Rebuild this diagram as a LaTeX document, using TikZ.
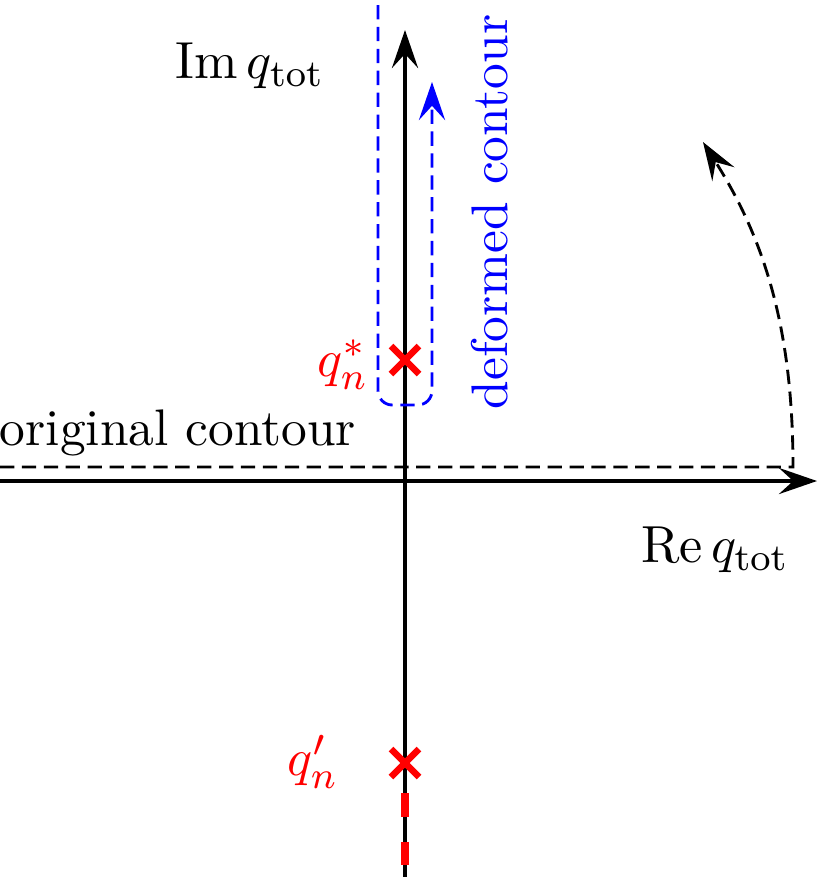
\documentclass[tikz,border=0pt]{standalone}
\usetikzlibrary{arrows.meta}
\begin{document}
\begin{tikzpicture}[x=0.21pt,y=-0.21pt,
  tip/.tip={Stealth[length=8pt,width=5.5pt,inset=3pt]},
  ax/.style={line width=0.7pt,-tip},
  dsh/.style={line width=0.6pt,dash pattern=on 3pt off 1.6pt},
  crs/.style={red,line width=1.4pt},
  lbl/.style={font=\fontsize{10.8}{13}\selectfont}]
\useasboundingbox (0,0) rectangle (821,877);
\coordinate (rl) at (0,481); \coordinate (rr) at (817,481);
\coordinate (ib) at (405,877); \coordinate (it) at (405,30);
\draw[ax] (rl) -- (rr);
\draw[ax] (ib) -- (it);
\coordinate (o1) at (0,467); \coordinate (o2) at (793,467); \coordinate (o3) at (703,142);
\draw[dsh,-tip] (o1) -- (o2) .. controls (793,330) and (765,240) .. (o3);
\coordinate (b1) at (378,5); \coordinate (b2) at (432,82);
\draw[dsh,blue,rounded corners=3pt,-tip] (b1) -- (378,405) -- (432,405) -- (b2);
\foreach \y/\n in {360/s,763/p}{
 \draw[crs] (391,\y-14) -- (419,\y+14);
 \draw[crs] (391,\y+14) -- (419,\y-14);}
\draw[red,line width=1.5pt] (405,793) -- (405,817) (405,842) -- (405,865);
\node[lbl] (im) at (250,66) {$\mathrm{Im}\,q_{\mathrm{tot}}$};
\node[lbl] (re) at (715,550) {$\mathrm{Re}\,q_{\mathrm{tot}}$};
\node[lbl,red] (qs) at (343,365) {$q_n^*$};
\node[lbl,red] (qp) at (313,762) {$q_n'$};
\node[lbl] (oc) at (178,433) {original contour};
\node[lbl,blue,rotate=90] (dc) at (490,212) {deformed contour};
\end{tikzpicture}
\end{document}
